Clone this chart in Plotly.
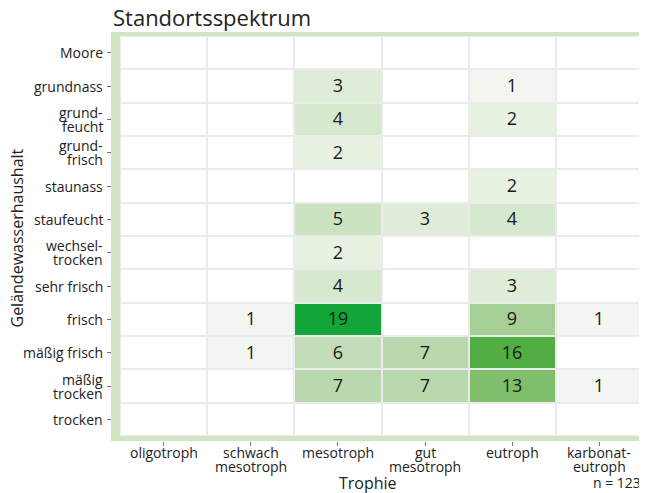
import plotly.graph_objects as go

columns = ["oligotroph", "schwach<br>mesotroph", "mesotroph", "gut<br>mesotroph", "eutroph", "karbonat-<br>eutroph"]
rows = ["Moore", "grundnass", "grund-<br>feucht", "grund-<br>frisch", "staunass", "staufeucht",
        "wechsel-<br>trocken", "sehr frisch", "frisch", "mäßig frisch", "mäßig<br>trocken", "trocken"]

counts = [
    [0, 0, 0, 0, 0, 0],    # Moore
    [0, 0, 3, 0, 1, 0],    # grundnass
    [0, 0, 4, 0, 2, 0],    # grund-feucht
    [0, 0, 2, 0, 0, 0],    # grund-frisch
    [0, 0, 0, 0, 2, 0],    # staunass
    [0, 0, 5, 3, 4, 0],    # staufeucht
    [0, 0, 2, 0, 0, 0],    # wechsel-trocken
    [0, 0, 4, 0, 3, 0],    # sehr frisch
    [0, 1, 19, 0, 9, 1],   # frisch
    [0, 1, 6, 7, 16, 0],   # mäßig frisch
    [0, 0, 7, 7, 13, 1],   # mäßig trocken
    [0, 0, 0, 0, 0, 0],    # trocken
]
n_total = 123

color_stops = [
    (0, "#ffffff"), (1, "#f3f5f0"), (2, "#e8f2e3"), (3, "#dfecd7"), (4, "#d6e8cd"),
    (5, "#cce3c2"), (6, "#c3ddb8"), (7, "#b9d8ad"), (9, "#a6cf95"), (13, "#7fbe6a"),
    (16, "#52ad43"), (19, "#12a538"),
]
zmax = 19
colorscale = [[v / zmax, c] for v, c in color_stops]

texts = [[str(v) if v > 0 else "" for v in r] for r in counts]

FONT = "Open Sans"
TXT = "#222"
# page body has an 8px margin; figure sized to the remaining visible area
W, H = 639, 485
ml, mr, mt, mb = 103, 4, 28, 52
pw = W - ml - mr
ph = H - mt - mb
xdom0 = 9 / pw
ydom0 = 5 / ph
LINE = 14  # tick label line spacing in px

fig = go.Figure()
fig.add_trace(go.Heatmap(
    z=counts, x=list(range(len(columns))), y=list(range(len(rows))),
    text=texts, texttemplate="%{text}",
    textfont=dict(family=FONT, size=18, color="#1a1a1a"),
    colorscale=colorscale, zmin=0, zmax=zmax, showscale=False,
    xgap=2, ygap=2, hoverinfo="skip",
))

annotations = []
# y tick labels (right-aligned, tight line spacing)
for i, lab in enumerate(rows):
    lines = lab.split("<br>")
    k = len(lines)
    for j, ln in enumerate(lines):
        annotations.append(dict(
            text=ln, xref="paper", yref="y", x=-6 / pw, y=i, xanchor="right",
            yanchor="middle", yshift=-(j - (k - 1) / 2) * LINE, showarrow=False,
            font=dict(family=FONT, size=14, color=TXT)))
# x tick labels
for i, lab in enumerate(columns):
    for j, ln in enumerate(lab.split("<br>")):
        annotations.append(dict(
            text=ln, xref="x", yref="paper", x=i, y=0, xanchor="center",
            yanchor="middle", yshift=-11 - j * LINE, showarrow=False,
            font=dict(family=FONT, size=14, color=TXT)))

annotations += [
    dict(text="Geländewasserhaushalt", xref="paper", yref="paper", x=(8 - ml) / pw, y=0.5,
         textangle=-90, showarrow=False, font=dict(family=FONT, size=16, color=TXT),
         xanchor="center", yanchor="middle"),
    dict(text="Trophie", xref="paper", yref="paper", x=(360 - ml) / pw, y=-42 / ph,
         showarrow=False, font=dict(family=FONT, size=16, color=TXT), xanchor="center",
         yanchor="middle"),
    dict(text="n = " + str(n_total), xref="paper", yref="paper", x=1.0,
         y=-42 / ph, showarrow=False, font=dict(family=FONT, size=14, color=TXT),
         xanchor="right", yanchor="middle"),
]

fig.update_layout(
    width=W, height=H,
    margin=dict(l=ml, r=mr, t=mt, b=mb),
    paper_bgcolor="white", plot_bgcolor="rgba(0,0,0,0)",
    font=dict(family=FONT, size=14, color=TXT),
    title=dict(text="Standortsspektrum", x=105 / W, xanchor="left", xref="container",
               y=1 - 10 / H, yanchor="middle", yref="container",
               font=dict(family=FONT, size=22, color=TXT)),
    xaxis=dict(domain=[xdom0, 1], range=[-0.5, 5.5], tickvals=list(range(len(columns))),
               showticklabels=False, anchor="free", position=0, ticks="outside", ticklen=4,
               tickcolor="#777", showgrid=False, zeroline=False, showline=False),
    yaxis=dict(domain=[ydom0, 1], range=[11.5, -0.5], tickvals=list(range(len(rows))),
               showticklabels=False, anchor="free", position=0, ticks="outside", ticklen=4,
               tickcolor="#777", showgrid=False, zeroline=False, showline=False),
    yaxis2=dict(domain=[ydom0, 1], range=[11.5, -0.5], overlaying="y", side="right",
                anchor="x", tickvals=list(range(len(rows))), ticks="outside", ticklen=4,
                tickcolor="white", showticklabels=False, showgrid=False, zeroline=False,
                showline=False),
    shapes=[
        dict(type="rect", xref="paper", yref="paper", x0=0, x1=(pw + 4) / pw, y0=0,
             y1=1 + 4 / ph, fillcolor="#d1e5c4", line=dict(width=0), layer="below"),
        dict(type="rect", xref="paper", yref="paper", x0=xdom0, x1=1, y0=ydom0, y1=1,
             fillcolor="#ebebeb", line=dict(width=0), layer="below"),
    ],
    annotations=annotations,
)

fig.write_html("out.html")
